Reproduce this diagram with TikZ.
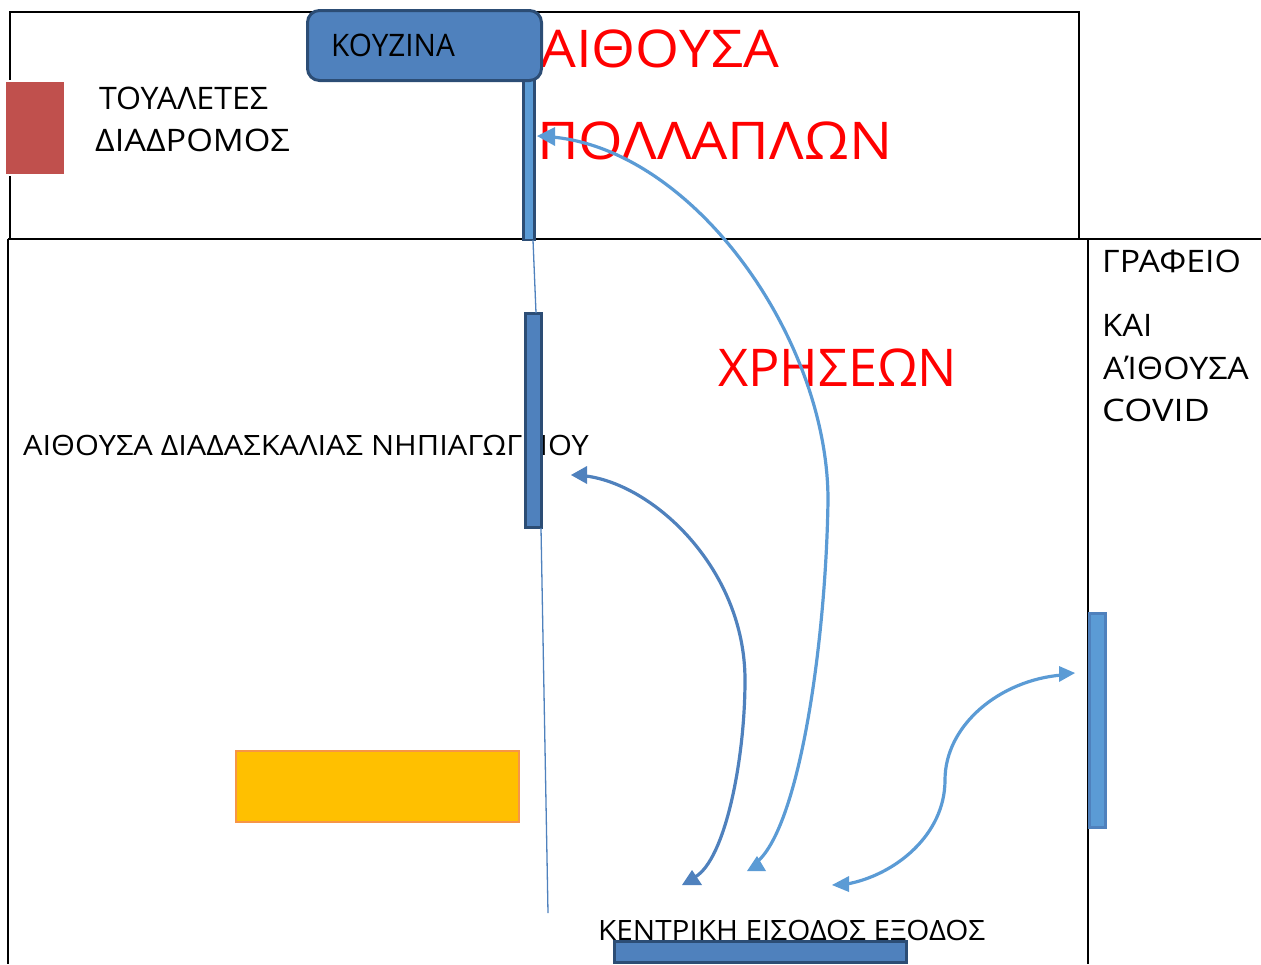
\documentclass[tikz,border=0pt]{standalone}
\usepackage{fontspec}
\setmainfont{Open Sans}[FakeStretch=1.06]
\usetikzlibrary{arrows.meta}
\definecolor{doorblue}{HTML}{4F81BD}
\definecolor{lightblue}{HTML}{5B9BD5}
\definecolor{darkedge}{HTML}{2C4D75}
\definecolor{brickred}{HTML}{C0504D}
\definecolor{amber}{HTML}{FFC000}
\definecolor{amberedge}{HTML}{F79646}
\tikzset{
  wall/.style={draw=black,line width=2pt},
  thin door/.style={draw=darkedge,fill=doorblue,line width=3pt,inner sep=0pt,outer sep=0pt,anchor=north west},
  pale door/.style={draw=doorblue,fill=lightblue,line width=3pt,inner sep=0pt,outer sep=0pt,anchor=north west},
  label/.style={inner sep=0pt,anchor=base west,text=black,font=\fontsize{31}{31}\selectfont},
  bigred/.style={inner sep=0pt,anchor=base west,text=red,font=\fontsize{52}{52}\selectfont},
  seam/.style={draw=doorblue,line width=1.3pt},
  flow/.style={draw=lightblue,line width=3.2pt},
  flowdark/.style={draw=doorblue,line width=3.2pt},
  headlight/.style={fill=lightblue},
  headdark/.style={fill=doorblue},
}
\begin{document}
\begin{tikzpicture}[x=1pt,y=-1pt]
\useasboundingbox (0,0) rectangle (1261,964);
% walls
\draw[wall] (10,239) -- (10,12) -- (1079,12) -- (1079,239);
\draw[wall] (8,239) -- (1261,239);
\draw[wall] (8,239) -- (8,964);
\draw[wall] (1088,239) -- (1088,964);
% seam coordinates
\coordinate (seamA) at (533,240);
\coordinate (seamB) at (536,313);
\coordinate (seamC) at (541,528);
\coordinate (seamD) at (548,913);
% doors
\node[draw=darkedge,fill=lightblue,line width=2.2pt,inner sep=0pt,outer sep=0pt,minimum width=11pt,minimum height=161pt,anchor=north west] (doorK) at (523.5,79) {};
\node[draw=white,line width=2.4pt,fill=brickred,inner sep=0pt,outer sep=0pt,minimum width=60pt,minimum height=94pt,anchor=north west] (wc) at (5,81) {};
% big texts
\node[bigred] (t1) at (540,67) {\scalebox{1.026}[1]{ΑΙΘΟΥΣΑ}};
\node[bigred] (t2) at (537,159) {\scalebox{1.04}[1]{ΠΟΛΛΑΠΛΩΝ}};
\node[bigred] (t3) at (718,386) {\scalebox{0.948}[1]{ΧΡΗΣΕΩΝ}};
% labels
\node[label] (t4) at (99,109) {\scalebox{0.977}[1]{ΤΟΥΑΛΕΤΕΣ}};
\node[label] (t5) at (95,151) {\scalebox{1.043}[1]{ΔΙΑΔΡΟΜΟΣ}};
\node[label,font=\fontsize{28}{28}\selectfont] (t6) at (23,455) {\scalebox{1.035}[1]{ΑΙΘΟΥΣΑ ΔΙΑΔΑΣΚΑΛΙΑΣ ΝΗΠΙΑΓΩΓΕΙΟΥ}};
\node[label] (t7) at (1102,272) {\scalebox{1.03}[1]{ΓΡΑΦΕΙΟ}};
\node[label] (t8) at (1102,336) {ΚΑΙ};
\node[label] (t9) at (1103,379) {\scalebox{1.03}[1]{ΑΊΘΟΥΣΑ}};
\node[label] (t10) at (1102,421) {\scalebox{1.1}[1]{COVID}};
\node[label,font=\fontsize{28}{28}\selectfont] (t11) at (598,940) {ΚΕΝΤΡΙΚΗ ΕΙΣΟΔΟΣ ΕΞΟΔΟΣ};
% kitchen and other doors
\node[draw=darkedge,fill=doorblue,line width=3pt,rounded corners=12pt,inner sep=0pt,outer sep=0pt,minimum width=234pt,minimum height=70pt,anchor=north west] (kitchen) at (307.5,10.5) {};
\node[label] (t12) at (331,56) {\scalebox{0.905}[1]{ΚΟΥΖΙΝΑ}};
\node[thin door,minimum width=16pt,minimum height=214pt] (doorT) at (525,313.5) {};
\node[pale door,minimum width=16pt,minimum height=214pt] (doorO) at (1089,613.5) {};
\node[thin door,minimum width=292pt,minimum height=21pt] (doorE) at (614,941) {};
\node[draw=amberedge,fill=amber,line width=2.4pt,inner sep=0pt,outer sep=0pt,minimum width=283pt,minimum height=71pt,anchor=north west] (table) at (236,751) {};
% seam
\draw[seam] (seamA) -- (seamB);
\draw[seam] (seamC) -- (seamD);
% flows
\coordinate (a1) at (552,137);
\coordinate (b1) at (757,862);
\coordinate (m1) at (828,500);
\coordinate (a2) at (586,476);
\coordinate (b2) at (695,877);
\coordinate (m2) at (745,680);
\coordinate (a3) at (1062,675);
\coordinate (b3) at (847,884);
\coordinate (m3) at (945,780);
\draw[flow] (a1) .. controls (695,150) and (828,340) .. (m1) .. controls (826,640) and (800,825) .. (b1);
\draw[flowdark] (a2) .. controls (655,485) and (745,570) .. (m2) .. controls (745,760) and (725,860) .. (b2);
\draw[flow] (a3) .. controls (1000,680) and (945,725) .. (m3) .. controls (945,835) and (895,875) .. (b3);
% arrowheads
\fill[headlight] (537,136) -- (555,127) -- (555,146) -- cycle;
\fill[headlight] (757,856) -- (766,871) -- (747,871) -- cycle;
\fill[headdark] (571,475) -- (587,466) -- (587,484) -- cycle;
\fill[headdark] (692,870) -- (702,885) -- (682,885) -- cycle;
\fill[headlight] (1075,673) -- (1059,666) -- (1059,682) -- cycle;
\fill[headlight] (832,885) -- (849,876) -- (849,892) -- cycle;
\end{tikzpicture}
\end{document}
